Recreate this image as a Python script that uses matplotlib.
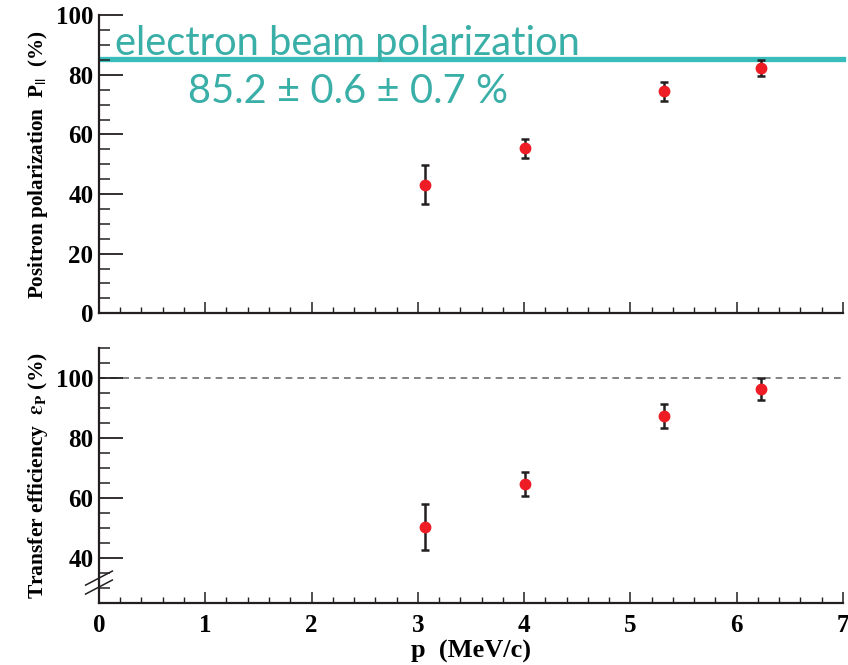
import numpy as np
import matplotlib
matplotlib.use("Agg")
import matplotlib.pyplot as plt
import matplotlib.ticker as mticker

# ------------------------------------------------------------
# dados
momento = [3.07, 4.01, 5.32, 6.23]          # p (MeV/c)
polarizacao = [43.2, 55.3, 74.5, 82.3]      # P_|| (%)
polarizacao_err = [6.6, 3.3, 3.2, 2.7]
eficiencia = [50.3, 64.7, 87.2, 96.2]       # epsilon_P (%)
eficiencia_err = [7.7, 4.0, 4.0, 3.6]
pol_feixe = 85.2                            # polarização do feixe de elétrons
texto_feixe = "electron beam polarization"
texto_valor = "85.2 ± 0.6 ± 0.7 %"

plt.rcParams["font.family"] = "Liberation Serif"
plt.rcParams["font.weight"] = "bold"
plt.rcParams["mathtext.fontset"] = "stix"

TEAL_LINHA = "#38BDBC"
TEAL_TEXTO = "#3AAFA8"
EIXO = "#231F20"

fig = plt.figure(figsize=(8.48, 6.65), dpi=100)
ax1 = fig.add_axes([0.1167, 0.529, 0.8773, 0.448])
ax2 = fig.add_axes([0.1167, 0.0932, 0.8773, 0.3842])


def estilo(ax, ymaior, ymenor):
    for lado in ["top", "right"]:
        ax.spines[lado].set_visible(False)
    for lado in ["left", "bottom"]:
        ax.spines[lado].set_linewidth(1.6)
        ax.spines[lado].set_color(EIXO)
    ax.set_xlim(0, 7)
    ax.xaxis.set_major_locator(mticker.MultipleLocator(1))
    ax.xaxis.set_minor_locator(mticker.MultipleLocator(0.2))
    ax.yaxis.set_major_locator(mticker.MultipleLocator(ymaior))
    ax.yaxis.set_minor_locator(mticker.MultipleLocator(ymenor))
    ax.tick_params(axis="y", which="major", direction="in", length=17,
                   width=1.3, color=EIXO, labelsize=18, pad=4)
    ax.tick_params(axis="y", which="minor", direction="in", length=8,
                   width=1.1, color=EIXO)
    ax.tick_params(axis="x", which="major", direction="in", length=8,
                   width=1.1, color=EIXO, labelsize=18, pad=8)
    ax.tick_params(axis="x", which="minor", direction="in", length=4,
                   width=1.0, color=EIXO)


# ------------------------------------------------------------
# painel superior — polarização do pósitron
estilo(ax1, 20, 5)
ax1.set_ylim(0, 100)
ax1.tick_params(axis="x", labelbottom=False)
ax1.axhline(pol_feixe, xmin=0.003, xmax=1.0, color=TEAL_LINHA, lw=3.8,
            clip_on=False, zorder=1)
ax1.errorbar(momento, polarizacao, yerr=polarizacao_err, fmt="o",
             color="#EE1C25", ms=7.5, ecolor=EIXO, elinewidth=1.8,
             capsize=3, capthick=1.8, zorder=3)
ax1.text(0.15, 90.7, texto_feixe, fontsize=28.7, family="Lato",
         fontweight="normal", color=TEAL_TEXTO, ha="left", va="center")
ax1.text(0.84, 74.5, texto_valor, fontsize=28.7, family="Lato",
         fontweight="normal", color=TEAL_TEXTO, ha="left", va="center")
ax1.set_ylabel(r"Positron polarization  P$_{\mathbf{||}}$  (%)",
               fontsize=15.2, fontweight="bold", labelpad=4)

# ------------------------------------------------------------
# painel inferior — eficiência de transferência
estilo(ax2, 20, 5)
ax2.set_ylim(25, 110)
ax2.set_yticks([40, 60, 80, 100])
ax2.axhline(100, color="#6D6E71", lw=1.2, ls=(0, (4, 3)), zorder=1)
ax2.errorbar(momento, eficiencia, yerr=eficiencia_err, fmt="o",
             color="#EE1C25", ms=7.5, ecolor=EIXO, elinewidth=1.8,
             capsize=3, capthick=1.8, zorder=3)
ax2.set_ylabel(r"Transfer efficiency  $\mathrm{\epsilon}_{\mathbf{P}}$ (%)",
               fontsize=15.5, fontweight="bold", labelpad=4)
ax2.set_xlabel("p  (MeV/c)", fontsize=19, fontweight="bold", labelpad=2)

# marcas de quebra do eixo y
for dy in (0.0, 0.035):
    ax2.plot([-0.018, 0.018], [0.035 + dy, 0.09 + dy],
             transform=ax2.transAxes, color=EIXO, lw=1.1, clip_on=False)

fig.savefig("out.png", dpi=100)
